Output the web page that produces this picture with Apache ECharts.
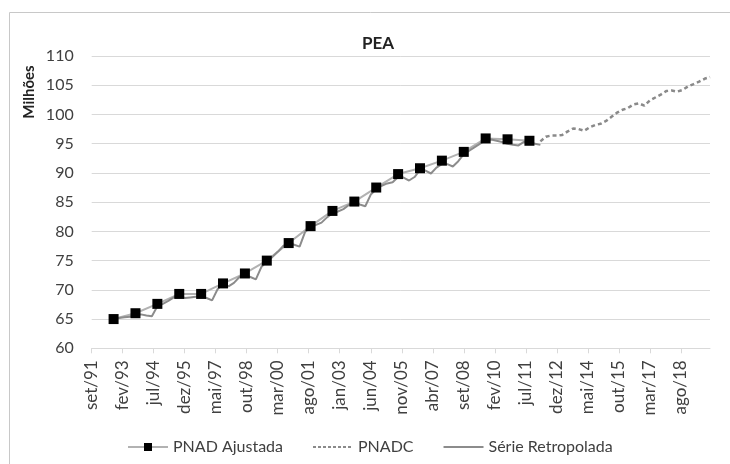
<!DOCTYPE html>
<html>
<head>
<meta charset="utf-8">
<script src="https://cdn.jsdelivr.net/npm/echarts@6/dist/echarts.min.js"></script>
<style>
  html, body { margin: 0; padding: 0; background: #fff; }
  #chart { width: 730px; height: 464px; }
</style>
</head>
<body>
<div id="chart"></div>
<script>
// month names used for the category axis (set/91 .. dez/19)
var monthNames = ['jan', 'fev', 'mar', 'abr', 'mai', 'jun', 'jul', 'ago', 'set', 'out', 'nov', 'dez'];
var firstYear = 1991, firstMonth = 8, monthCount = 340;

// PNAD Ajustada - one point per year (september)
var pnadYears = [1992, 1993, 1994, 1995, 1996, 1997, 1998, 1999, 2000, 2001,
                 2002, 2003, 2004, 2005, 2006, 2007, 2008, 2009, 2010, 2011];
var pnadValues = [65.0, 66.0, 67.6, 69.3, 69.3, 71.1, 72.8, 75.0, 78.0, 80.9,
                  83.5, 85.1, 87.5, 89.8, 90.8, 92.1, 93.6, 95.9, 95.75, 95.5];

// Série Retropolada - quarterly, from set/92 to mar/12
var retroStart = [1992, 8];
var retroValues = [
  65.0, 65.2,
  65.3, 65.4, 65.8, 65.8,
  65.6, 65.5, 67.2, 67.6,
  68.1, 68.7, 69.2, 68.6,
  68.7, 68.8, 69.1, 68.6,
  68.2, 70.1, 71.1, 70.6,
  71.2, 72.2, 72.5, 72.2,
  71.8, 73.9, 74.9, 75.6,
  76.5, 77.5, 78.0, 77.7,
  77.4, 79.9, 80.7, 81.1,
  81.5, 82.4, 83.1, 83.4,
  83.8, 84.5, 85.0, 84.6,
  84.3, 86.3, 87.2, 87.8,
  88.2, 88.4, 89.3, 89.2,
  88.7, 89.3, 90.5, 90.4,
  89.9, 90.9, 91.5, 91.5,
  91.1, 92.0, 93.2, 93.8,
  94.4, 95.0, 95.6, 95.7,
  95.5, 95.3, 95.0, 94.8,
  94.7, 95.3, 95.2, 95.0,
  94.8
];

// PNADC - quarterly, from mar/12 to dez/19
var pnadcStart = [2012, 2];
var pnadcValues = [
  95.4, 96.2, 96.4, 96.4,
  96.5, 97.1, 97.6, 97.5,
  97.2, 97.8, 98.2, 98.4,
  98.9, 99.6, 100.3, 100.8,
  101.1, 101.7, 101.9, 101.5,
  102.4, 102.9, 103.4, 104.0,
  104.1, 103.9, 104.2, 104.8,
  105.2, 105.6, 106.1, 106.4
];

var months = [];
for (var i = 0; i < monthCount; i++) {
  var m = (firstMonth + i) % 12;
  var y = firstYear + Math.floor((firstMonth + i) / 12);
  months.push(monthNames[m] + '/' + String(y).slice(2));
}

function monthIdx(year, month) {
  return (year - firstYear) * 12 + month - firstMonth;
}

var pnadData = pnadYears.map(function (yr, i) {
  return [months[monthIdx(yr, 8)], pnadValues[i]];
});
var retroData = retroValues.map(function (v, i) {
  return [months[monthIdx(retroStart[0], retroStart[1]) + 3 * i], v];
});
var pnadcData = pnadcValues.map(function (v, i) {
  return [months[monthIdx(pnadcStart[0], pnadcStart[1]) + 3 * i], v];
});

var font = 'Lato, "DejaVu Sans", sans-serif';
var textColor = '#404040';
var gridColor = '#d9d9d9';

// legend icons: plain line and dashed line
var solidIcon = 'path://M0,0H40V2H0Z';
var dashIcon = 'path://M0,0H3V2H0Z M5,0H8V2H5Z M10,0H13V2H10Z M15,0H18V2H15Z M20,0H23V2H20Z M25,0H28V2H25Z M30,0H33V2H30Z M35,0H38V2H35Z M40,0H40.01V2H40Z';

var chart = echarts.init(document.getElementById('chart'));
var option = {
  animation: false,
  backgroundColor: '#ffffff',
  textStyle: { fontFamily: font },
  title: {
    text: 'PEA',
    left: 357,
    top: 30,
    textStyle: { fontFamily: font, fontSize: 17, fontWeight: 'bold', color: '#222' }
  },
  graphic: [
    {
      type: 'rect',
      silent: true,
      shape: { x: 9.5, y: 12.5, width: 740, height: 470 },
      style: { fill: 'none', stroke: '#c8c8c8', lineWidth: 1 }
    },
    {
      type: 'text',
      x: 29,
      y: 92,
      rotation: Math.PI / 2,
      style: {
        text: 'Milhões',
        fontFamily: font,
        fontSize: 15,
        fontWeight: 'bold',
        fill: '#222',
        align: 'center',
        verticalAlign: 'middle'
      }
    }
  ],
  legend: {
    data: [
      { name: 'PNAD Ajustada' },
      { name: 'PNADC', icon: dashIcon },
      { name: 'Série Retropolada', icon: solidIcon }
    ],
    left: 122,
    top: 434,
    itemWidth: 40,
    itemHeight: 10,
    itemGap: 30,
    textStyle: { fontFamily: font, fontSize: 16, color: textColor }
  },
  grid: { left: 91.7, right: 20, top: 56, bottom: 115.7 },
  xAxis: {
    type: 'category',
    data: months,
    boundaryGap: false,
    axisLine: { lineStyle: { color: gridColor, width: 1 } },
    axisTick: { interval: 16, length: 5, lineStyle: { color: gridColor } },
    axisLabel: {
      interval: 16,
      rotate: 90,
      margin: 12,
      fontFamily: font,
      fontSize: 17,
      color: textColor
    },
    splitLine: { show: false }
  },
  yAxis: {
    type: 'value',
    min: 60,
    max: 110,
    interval: 5,
    axisLine: { show: false },
    axisTick: { show: false },
    axisLabel: { margin: 18, fontFamily: font, fontSize: 16, color: textColor },
    splitLine: { lineStyle: { color: gridColor, width: 1 } }
  },
  series: [
    {
      name: 'PNAD Ajustada',
      type: 'line',
      data: pnadData,
      symbol: 'rect',
      symbolSize: 10,
      showAllSymbol: true,
      itemStyle: { color: '#000000' },
      lineStyle: { color: '#b2b2b2', width: 2 }
    },
    {
      name: 'PNADC',
      type: 'line',
      data: pnadcData,
      symbol: 'none',
      itemStyle: { color: '#8a8a8a' },
      lineStyle: { color: '#8a8a8a', width: 2.5, type: [4, 3] }
    },
    {
      name: 'Série Retropolada',
      type: 'line',
      data: retroData,
      symbol: 'none',
      itemStyle: { color: '#8c8c8c' },
      lineStyle: { color: '#8c8c8c', width: 2 }
    }
  ]
};
chart.setOption(option);
</script>
</body>
</html>
